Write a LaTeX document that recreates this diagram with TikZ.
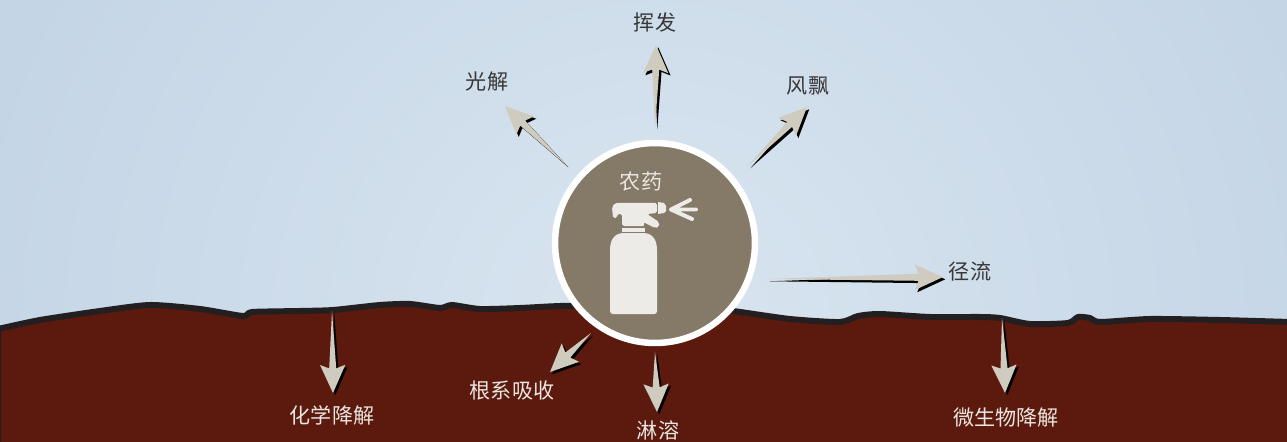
\documentclass[tikz,border=0pt]{standalone}
\usepackage{fontspec}
\setmainfont{Noto Sans CJK SC}
\usetikzlibrary{calc}

\definecolor{skyout}{HTML}{C4D5E6}
\definecolor{skyin}{HTML}{D9E5F0}
\definecolor{soil}{HTML}{5C1A0F}
\definecolor{rim}{HTML}{231F20}
\definecolor{pest}{HTML}{857A68}
\definecolor{bottle}{HTML}{EDEBE7}
\definecolor{arrowgrey}{HTML}{CFCCBF}
\definecolor{darktext}{HTML}{383838}
\definecolor{lighttext}{HTML}{E9E5DF}

\tikzset{
  skylabel/.style={text=darktext, font=\fontsize{12}{14}\selectfont, inner sep=0pt},
  soillabel/.style={text=lighttext, font=\fontsize{12}{14}\selectfont, inner sep=0pt},
  arrowbody/.style={fill=arrowgrey},
  arrowshade/.style={fill=black, transform canvas={xshift=1.3pt, yshift=-1.3pt}},
  bottlepart/.style={fill=bottle},
}

% tapered arrow from #1 (tail) to #2 (tip), with a hard shadow
\newcommand\fatarrow[2]{%
  \foreach \sty in {arrowshade,arrowbody}{
    \fill[\sty] (#1)
      -- ($(#2)!14pt!(#1)!2pt!90:(#1)$)
      -- ($(#2)!16pt!(#1)!7.2pt!90:(#1)$)
      -- (#2)
      -- ($(#2)!16pt!(#1)!7.2pt!-90:(#1)$)
      -- ($(#2)!14pt!(#1)!2pt!-90:(#1)$)
      -- cycle;
  }%
}

\begin{document}
\begin{tikzpicture}[x=0.02cm, y=-0.02cm, line join=round, line cap=round]
 \useasboundingbox (0,0) rectangle (1287,442);

 % sky
 \begin{scope}
  \clip (0,0) rectangle (1287,442);
  \fill[skyout] (0,0) rectangle (1287,442);
  \shade[inner color=skyin, outer color=skyout] (655,330) circle (14cm);

  % soil
  \filldraw[fill=soil, draw=rim, line width=0.12cm]
   plot[smooth, tension=0.4] coordinates {
    (-2,329) (40,320) (100,311) (150,305) (200,309) (243,316) (252,312)
    (300,311) (333,310) (380,305) (410,304) (440,308) (452,305) (480,309)
    (520,308) (560,306) (600,306) (700,308) (733,311) (790,319) (840,322)
    (858,316) (880,314) (930,317) (980,317) (1000,318) (1030,324) (1068,323)
    (1078,317) (1090,318) (1100,322) (1150,319) (1220,320) (1290,322)}
   -- (1290,450) -- (-2,450) -- cycle;
 \end{scope}

 % arrow ends
 \coordinate (volT) at (655,127); \coordinate (volH) at (656,45);
 \coordinate (phoT) at (566,165); \coordinate (phoH) at (505,106);
 \coordinate (drfT) at (748,166); \coordinate (drfH) at (807,107);
 \coordinate (runT) at (767,279); \coordinate (runH) at (943,277);
 \coordinate (chmT) at (332,311); \coordinate (chmH) at (333,393);
 \coordinate (rtT)  at (591,333); \coordinate (rtH)  at (550,372);
 \coordinate (lchT) at (655,352); \coordinate (lchH) at (657,412);
 \coordinate (micT) at (1002,318); \coordinate (micH) at (1005,393);

 \fatarrow{volT}{volH}
 \fatarrow{phoT}{phoH}
 \fatarrow{drfT}{drfH}
 \fatarrow{runT}{runH}
 \fatarrow{chmT}{chmH}
 \fatarrow{rtT}{rtH}
 \fatarrow{lchT}{lchH}
 \fatarrow{micT}{micH}

 % the pesticide disc
 \node[circle, fill=pest, draw=white, line width=0.13cm, minimum size=4cm] (pest) at (655,243) {};
 \node[soillabel] (pestname) at (641,181) {农药};

 % spray bottle
 \fill[bottlepart] (610,250) .. controls (610,238) and (616,233) .. (624,233)
   -- (643,233) .. controls (651,233) and (657,238) .. (657,250)
   -- (657,311) .. controls (657,313) and (656,314) .. (654,314)
   -- (613,314) .. controls (611,314) and (610,313) .. (610,311) -- cycle;
 \fill[bottlepart] (622,227.5) rectangle (645,231.5);
 \fill[bottlepart, rounded corners=1pt] (613,218) -- (612,207) -- (615,203) -- (657,203)
   -- (657,213) -- (647,214) -- (659,222) -- (659,227) -- (655,228) -- (643,222)
   -- (645,226) -- (622,226) -- (622,214) -- (617,214) -- (617,218) -- cycle;
 \fill[bottlepart] (658,202) -- (664,203) -- (666,206) -- (666,211) -- (664,213) -- (658,214) -- cycle;
 \draw[bottle, line width=0.08cm] (690,200) -- (671,209.5) -- (692,219) (671,209.5) -- (696,209.5);

 % labels
 \node[skylabel] (volat) at (655,22) {挥发};
 \node[skylabel] (photo) at (487,82) {光解};
 \node[skylabel] (drift) at (808,86) {风飘};
 \node[skylabel] (runoff) at (970,271) {径流};
 \node[soillabel] (chem) at (332,415) {化学降解};
 \node[soillabel] (root) at (512,390) {根系吸收};
 \node[soillabel] (leach) at (658,430) {淋溶};
 \node[soillabel] (micro) at (1006,418) {微生物降解};
\end{tikzpicture}
\end{document}
